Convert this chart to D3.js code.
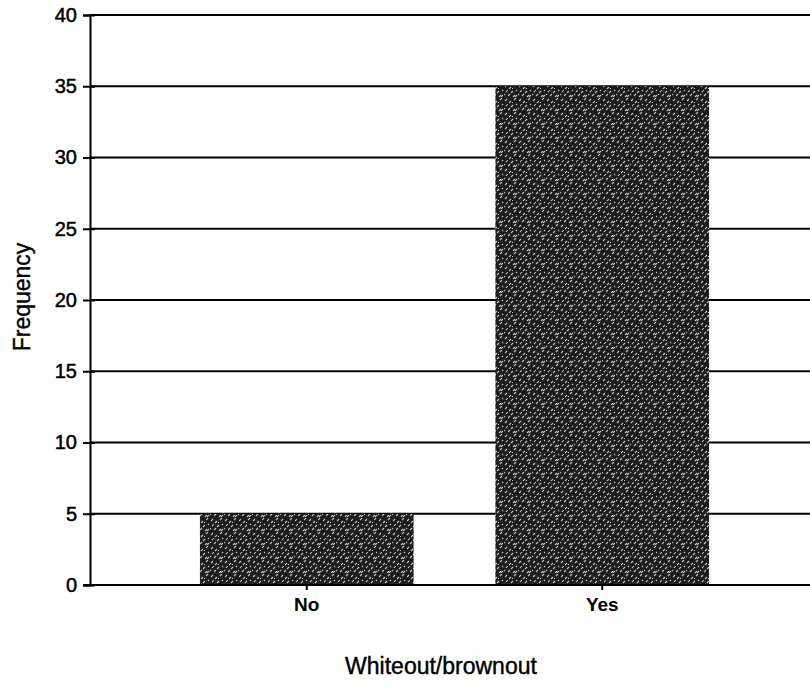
<!DOCTYPE html>
<html>
<head>
<meta charset="utf-8">
<script src="https://cdn.jsdelivr.net/npm/d3@7"></script>
<style>
  html, body { margin: 0; padding: 0; background: #fff; }
  svg { display: block; }
  text { font-family: "Liberation Sans", Arial, sans-serif; fill: #000; }
</style>
</head>
<body>
<script>
const categories = ["No", "Yes"];
const frequencies = [5, 35];
const yTicks = [0, 5, 10, 15, 20, 25, 30, 35, 40];
const xTitle = "Whiteout/brownout";
const yTitle = "Frequency";

const W = 810, H = 687;
const svg = d3.select("body").append("svg").attr("width", W).attr("height", H);

const plotLeft = 90, plotTop = 15, plotBottom = 585;

const x = d3.scaleBand().domain(categories).range([plotLeft, 819])
  .paddingInner(0.277).paddingOuter(0.372);
const y = d3.scaleLinear().domain([0, 40]).range([plotBottom, plotTop]);

// stipple pattern
const defs = svg.append("defs");
const pat = defs.append("pattern").attr("id", "stip").attr("patternUnits", "userSpaceOnUse")
  .attr("width", 14).attr("height", 14);
pat.append("rect").attr("width", 14).attr("height", 14).attr("fill", "#1c1c1c");
const dashes = [[1,3,3,1],[7,9,9,7],[10,2,12,0],[4,12,6,10],[11,13,13,11],[2,8,3,7],
                [5,5,7,3],[9,13,11,11],[0,11,1,10],[12,7,13,6]];
dashes.forEach(d => pat.append("line").attr("x1", d[0]).attr("y1", d[1]).attr("x2", d[2]).attr("y2", d[3])
  .attr("stroke", "#c4c4c4").attr("stroke-width", 1.1));
pat.append("rect").attr("x", 8).attr("y", 4).attr("width", 1).attr("height", 1).attr("fill", "#ccc");
pat.append("rect").attr("x", 3).attr("y", 6).attr("width", 1).attr("height", 1).attr("fill", "#aaa");

// gridlines
svg.append("g").selectAll("line").data(yTicks.filter(t => t > 0)).join("line")
  .attr("x1", plotLeft).attr("x2", W)
  .attr("y1", d => y(d)).attr("y2", d => y(d))
  .attr("stroke", "#000").attr("stroke-width", 2);

// bars
svg.append("g").selectAll("rect").data(categories).join("rect")
  .attr("x", d => x(d))
  .attr("y", (d, i) => y(frequencies[i]))
  .attr("width", x.bandwidth())
  .attr("height", (d, i) => y(0) - y(frequencies[i]))
  .attr("fill", "url(#stip)");

// y axis
const yAxis = svg.append("g").attr("transform", `translate(${plotLeft},0)`)
  .call(d3.axisLeft(y).tickValues(yTicks).tickSize(7).tickPadding(6));
yAxis.select(".domain").attr("stroke-width", 2);
yAxis.selectAll(".tick line").attr("stroke-width", 2).attr("x2", -7).attr("x1", 5);
yAxis.selectAll(".tick text").attr("font-size", 20)
  .attr("font-family", "'Liberation Sans', Arial, sans-serif")
  .attr("stroke", "#000").attr("stroke-width", 0.5);

// x axis
const xAxis = svg.append("g").attr("transform", `translate(0,${plotBottom})`)
  .call(d3.axisBottom(x).tickSize(5).tickPadding(8).tickSizeOuter(0));
xAxis.select(".domain").attr("stroke-width", 2).attr("d", `M${plotLeft - 7},0H${W}`);
xAxis.selectAll(".tick line").attr("stroke-width", 2);
xAxis.selectAll(".tick text").attr("font-size", 19).attr("font-weight", "bold")
  .attr("font-family", "'Liberation Sans', Arial, sans-serif");

// titles
svg.append("text").attr("x", 441).attr("y", 674).attr("text-anchor", "middle")
  .attr("font-size", 23).attr("stroke", "#000").attr("stroke-width", 0.4).text(xTitle);
svg.append("text").attr("transform", "translate(30,297) rotate(-90)").attr("text-anchor", "middle")
  .attr("font-size", 23).attr("stroke", "#000").attr("stroke-width", 0.4).text(yTitle);
</script>
</body>
</html>
